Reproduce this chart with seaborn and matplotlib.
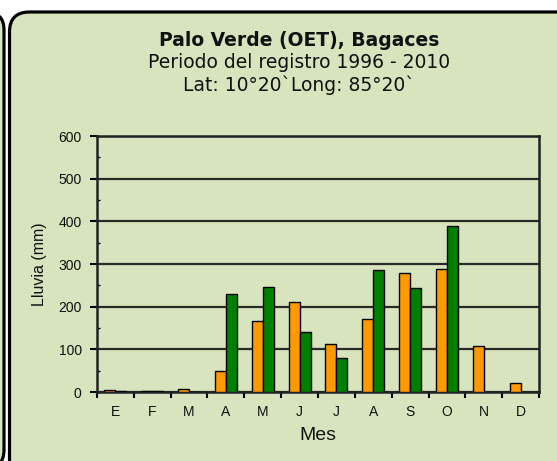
import numpy as np
import pandas as pd
import matplotlib
matplotlib.use("Agg")
import matplotlib.pyplot as plt
import seaborn as sns
from matplotlib.patches import FancyBboxPatch

# ---- data ----
mes_id = ["Ene", "Feb", "Mar", "Abr", "May", "Jun", "Jul", "Ago", "Set", "Oct", "Nov", "Dic"]
mes_labels = ["E", "F", "M", "A", "M", "J", "J", "A", "S", "O", "N", "D"]
serie_naranja = [5, 3, 8, 50, 167, 210, 112, 170, 278, 288, 107, 21]
serie_verde = [2, 2, 1, 230, 245, 140, 80, 285, 244, 388, np.nan, np.nan]
series = ["Serie 1", "Serie 2"]
colores = ["#FF9900", "#008000"]
y_ticks = [0, 100, 200, 300, 400, 500, 600]

titulo = "Palo Verde (OET), Bagaces"
subtitulo1 = "Periodo del registro 1996 - 2010"
subtitulo2 = "Lat: 10°20`Long: 85°20`"

df = pd.DataFrame({
    "mes": mes_id * 2,
    "serie": [series[0]] * 12 + [series[1]] * 12,
    "lluvia": serie_naranja + serie_verde,
})

sns.set_theme(style="white")
plt.rcParams["font.family"] = ["Liberation Sans", "DejaVu Sans"]

bg = "#D7E4BD"
fig = plt.figure(figsize=(5.57, 4.61), dpi=100, facecolor="white")

# rounded frames (inches)
left_box = FancyBboxPatch((-2.0, -0.07), 2.04, 4.56,
                          boxstyle="round,pad=0,rounding_size=0.18",
                          transform=fig.dpi_scale_trans, facecolor=bg,
                          edgecolor="black", linewidth=2.3, zorder=0)
main_box = FancyBboxPatch((0.095, -0.3), 6.0, 4.79,
                          boxstyle="round,pad=0,rounding_size=0.2",
                          transform=fig.dpi_scale_trans, facecolor=bg,
                          edgecolor="black", linewidth=2.3, zorder=0)
fig.add_artist(left_box)
fig.add_artist(main_box)

ax = fig.add_axes([97 / 557, (461 - 392) / 461, (539 - 97) / 557, (392 - 136) / 461])
ax.set_facecolor("none")

sns.barplot(data=df, x="mes", y="lluvia", hue="serie", order=mes_id,
            hue_order=series, palette=colores, saturation=1, width=0.6,
            errorbar=None, edgecolor="black", linewidth=1.0, legend=False,
            ax=ax, zorder=3)

ax.set_xlim(-0.5, 11.5)
ax.set_ylim(0, 600)
ax.set_yticks(y_ticks)
ax.set_yticks(np.arange(50, 600, 100), minor=True)
ax.yaxis.grid(True, which="major", color="#2a2a2a", linewidth=1.6)
ax.set_axisbelow(True)

ax.set_xticks(np.arange(-0.5, 12, 1))
ax.set_xticklabels([])
ax.set_xticks(np.arange(12), minor=True)
ax.set_xticklabels(mes_labels, minor=True)
ax.tick_params(axis="x", which="major", direction="out", length=4, width=1.5,
               color="black", bottom=True)
ax.tick_params(axis="x", which="minor", length=0, pad=9, labelsize=10,
               labelcolor="#111111", bottom=True)
ax.tick_params(axis="y", which="major", direction="out", length=5, width=1.5,
               color="black", labelsize=10, labelcolor="#111111", left=True, pad=6)
ax.tick_params(axis="y", which="minor", direction="in", length=2, width=1,
               color="black", left=True)

for s in ax.spines.values():
    s.set_visible(True)
    s.set_color("#222222")
    s.set_linewidth(1.8)

ax.set_xlabel("Mes", fontsize=14, labelpad=6, color="#111111")
ax.set_ylabel("Lluvia (mm)", fontsize=11.5, labelpad=8, color="#111111")

fig.text(299 / 557, 1 - 41 / 461, titulo, ha="center", va="center",
         fontsize=13.5, fontweight="bold", family="DejaVu Sans", color="#111111")
fig.text(299 / 557, 1 - 63 / 461, subtitulo1, ha="center", va="center",
         fontsize=13.5, family="DejaVu Sans", color="#111111")
fig.text(299 / 557, 1 - 85 / 461, subtitulo2, ha="center", va="center",
         fontsize=13.5, family="DejaVu Sans", color="#111111")

fig.savefig("out.png", dpi=100, facecolor="white")
